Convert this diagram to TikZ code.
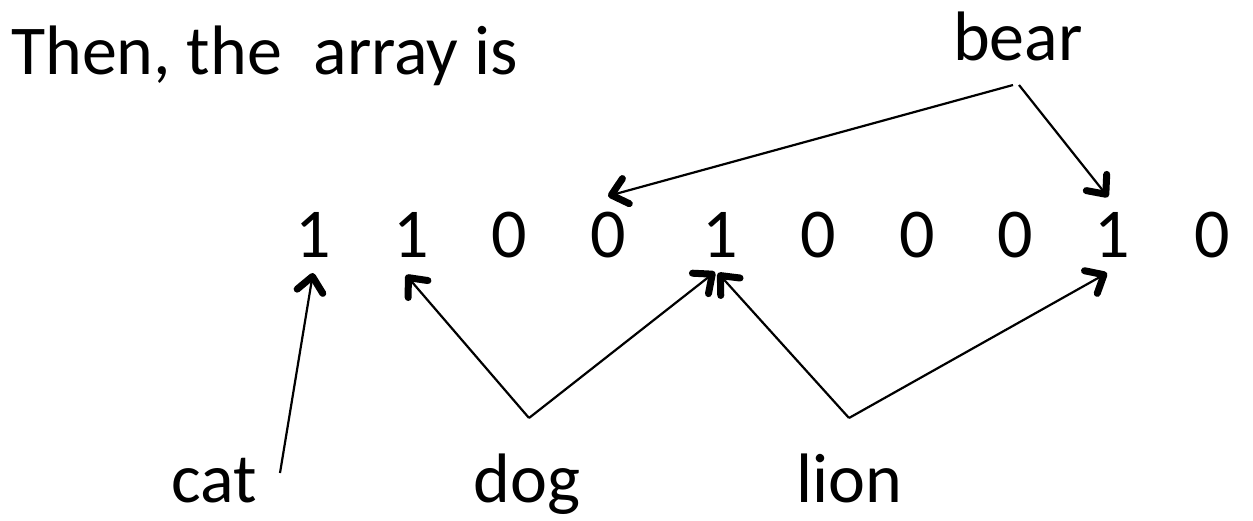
\documentclass[tikz,border=0pt]{standalone}
\usepackage{fontspec}
\setmainfont{Carlito}
\usetikzlibrary{arrows.meta}
\begin{document}
\begin{tikzpicture}[x=1pt,y=-1pt,
  lbl/.style={font=\fontsize{70}{82}\selectfont, inner sep=0pt, anchor=base},
  conn/.style={line width=2.2pt, -{Straight Barb[length=15pt,width=26pt,line width'=7pt,round]}}]
\useasboundingbox (0,0) rectangle (1253,520);
% texts
\node[lbl, anchor=base west] (title) at (11,74) {Then, the\ \ array is};
\node[lbl] (bear) at (1018,60) {bear};
\node[lbl] (cat) at (214,502) {cat};
\node[lbl] (dog) at (527,502) {dog};
\node[lbl] (lion) at (849,502) {lion};
% digits
\foreach \v/\x [count=\i] in {1/313,1/411,0/509,0/608,1/720,0/818,0/917,0/1015,1/1112,0/1212}
  \node[lbl] (d\i) at (\x,257) {\v};
% connector points
\coordinate (catfoot) at (280,473);
\coordinate (dogapex) at (529,418);
\coordinate (lionapex) at (849,418);
\coordinate (bearL) at (1013,85);
\coordinate (bearR) at (1019,85);
% connectors
\draw[conn] (catfoot) -- ([yshift=-16pt]d1.base);
\draw[conn] (dogapex) -- ([xshift=-5pt,yshift=-18pt]d2.base);
\draw[conn] (dogapex) -- ([xshift=-5pt,yshift=-15pt]d5.base);
\draw[conn] (lionapex) -- ([xshift=-2pt,yshift=-16pt]d5.base);
\draw[conn] (lionapex) -- ([xshift=-5pt,yshift=-16pt]d9.base);
\draw[conn] (bearL) -- ([yshift=61pt]d4.base);
\draw[conn] (bearR) -- ([xshift=-4pt,yshift=60pt]d9.base);
\end{tikzpicture}
\end{document}
